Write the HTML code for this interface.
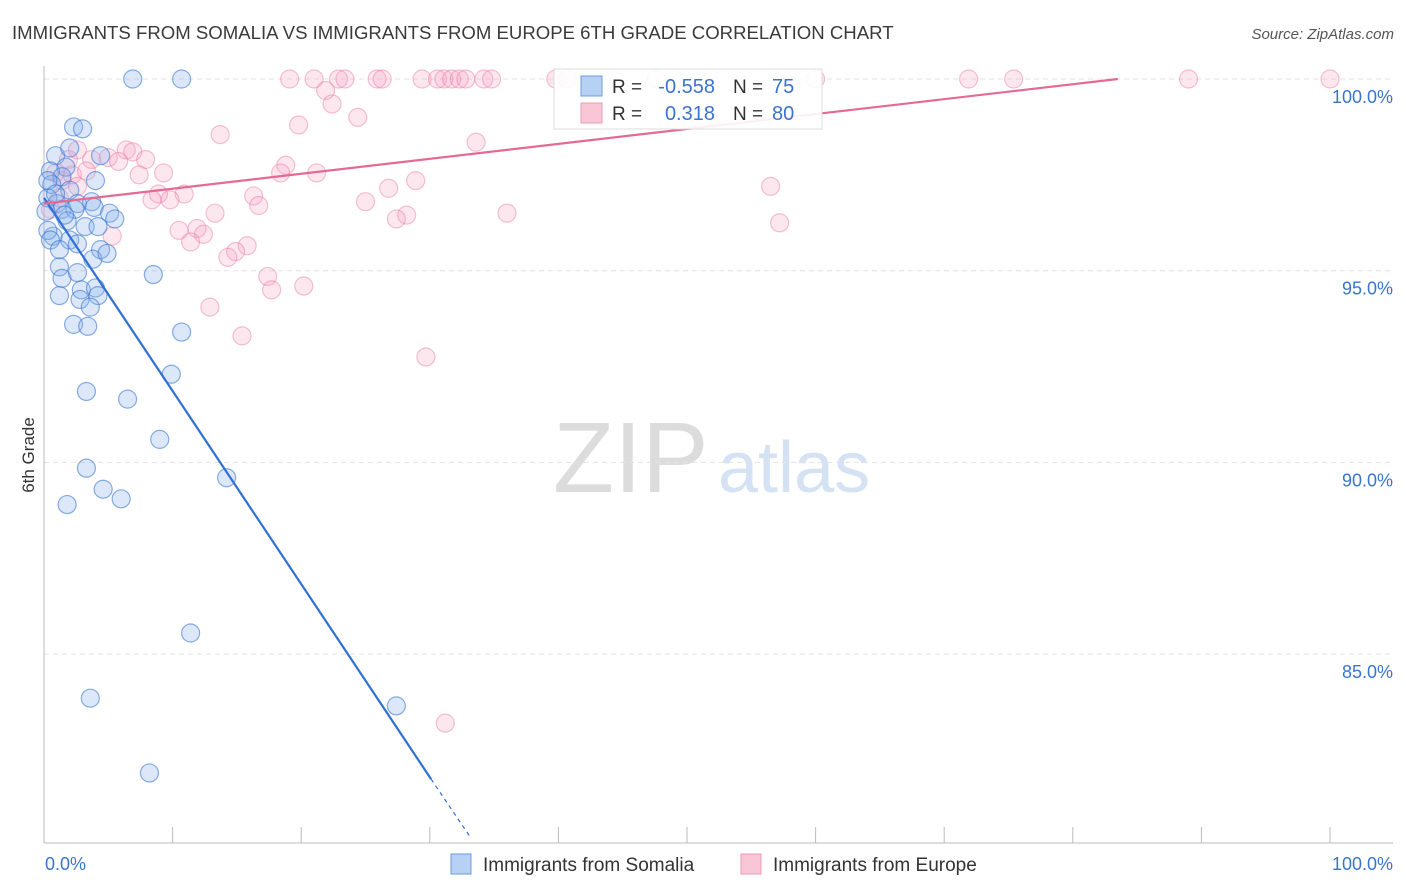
<!DOCTYPE html>
<html><head><meta charset="utf-8">
<style>
body{margin:0;background:#fff;font-family:"Liberation Sans",sans-serif;}
#wrap{position:relative;width:1406px;height:892px;overflow:hidden;}
svg text{font-family:"Liberation Sans",sans-serif;}
</style></head>
<body>
<div id="wrap">
<svg id="chart" width="1406" height="892">
<text x="12" y="39" font-size="18.6" fill="#3a3a3a">IMMIGRANTS FROM SOMALIA VS IMMIGRANTS FROM EUROPE 6TH GRADE CORRELATION CHART</text>
<text x="1394" y="39" font-size="15" fill="#555" font-style="italic" text-anchor="end">Source: ZipAtlas.com</text>
<text transform="translate(34,455) rotate(-90)" font-size="17" fill="#333" text-anchor="middle">6th Grade</text>
<g>
<text x="553" y="492" font-size="100" fill="#dcdcdc" font-family="Liberation Serif, serif">ZIP</text>
<text x="718" y="492" font-size="72" fill="#d4e2f4">atlas</text>
</g>
<g id="grid"></g>
<g id="marks"></g>
<g id="legend"></g>
</svg>
</div>
<script>
const yTicks=[100,95,90,85];
const yTickLabels=["100.0%","95.0%","90.0%","85.0%"];
const xTickLabels=["0.0%","100.0%"];
const somaliaX=[6.9,10.7,2.3,3.0,0.9,2.0,4.4,1.7,0.5,1.4,4.0,0.6,2.0,0.3,1.0,2.6,3.7,1.4,2.4,3.9,5.1,5.5,1.8,3.2,4.2,0.7,2.0,2.6,4.4,3.8,4.9,1.2,1.4,2.6,8.5,2.9,4.0,4.2,1.2,2.8,3.6,2.3,3.4,10.7,9.9,3.3,6.5,9.0,3.3,14.2,4.6,6.0,1.8,11.4,3.6,27.4,8.2,0.3,0.15,0.3,0.5,0.9,1.6,1.2];
const somaliaY=[100,100,98.75,98.7,98.0,98.2,98.0,97.7,97.6,97.45,97.35,97.25,97.1,96.9,96.75,96.75,96.8,96.6,96.6,96.65,96.5,96.35,96.3,96.15,96.15,95.9,95.8,95.7,95.55,95.3,95.45,95.1,94.8,94.95,94.9,94.5,94.55,94.35,94.35,94.25,94.05,93.6,93.55,93.4,92.3,91.85,91.65,90.6,89.85,89.6,89.3,89.05,88.9,85.55,83.85,83.65,81.9,97.35,96.55,96.05,95.8,97.0,96.45,95.55];
const europeX=[19.1,21.0,22.9,23.4,25.9,26.3,29.4,30.6,31.1,31.7,32.3,32.8,34.2,34.8,39.8,40.7,47.6,60.0,71.9,75.4,89,100,21.9,22.4,24.4,19.8,13.7,33.6,6.4,6.9,5.0,7.9,5.8,3.7,18.8,18.4,21.2,9.3,7.4,28.9,26.8,56.5,8.9,10.9,16.3,8.4,9.8,16.7,25.0,13.3,28.2,27.4,36.0,57.2,10.5,11.9,12.4,11.4,15.8,14.9,14.3,17.4,17.7,20.2,12.9,15.4,29.7,31.2,0.9,1.9,2.6,1.4,2.2,3.3,0.5,5.3,1.2,2.6];
const europeY=[100,100,100,100,100,100,100,100,100,100,100,100,100,100,100,100,100,100,100,100,100,100,99.7,99.35,99.0,98.8,98.55,98.35,98.15,98.1,97.95,97.9,97.85,97.9,97.75,97.55,97.55,97.55,97.5,97.35,97.15,97.2,97.0,97.0,96.95,96.85,96.85,96.7,96.8,96.5,96.45,96.35,96.5,96.25,96.05,96.1,95.95,95.75,95.65,95.5,95.35,94.85,94.5,94.6,94.05,93.3,92.75,83.2,97.55,97.9,98.15,97.35,97.5,97.6,96.6,95.9,96.9,97.2];
const somaliaTrendX=[0,30.1,33.2];
const somaliaTrendY=[96.9,81.74,80.2];
const europeTrendX=[0,83.5];
const europeTrendY=[96.75,100];

const NS="http://www.w3.org/2000/svg";
const X0=44,X1=1330,Y100=79,PXPER=38.34,YB=843;
function xs(v){return X0+(X1-X0)*v/100;}
function ys(v){return Y100+(100-v)*PXPER;}
function mk(tag,attrs,parent){const e=document.createElementNS(NS,tag);for(const k in attrs)e.setAttribute(k,attrs[k]);parent.appendChild(e);return e;}
const grid=document.getElementById('grid'),marks=document.getElementById('marks'),leg=document.getElementById('legend');

yTicks.forEach((t,i)=>{
  const l=mk('line',{x1:X0,x2:1393,y1:ys(t),y2:ys(t),stroke:'#e2e2e2','stroke-dasharray':'5,4'},grid);
  
  
  const tx=mk('text',{x:1393,y:ys(t)+24,'font-size':18,fill:'#3b73d0','text-anchor':'end'},grid);
  tx.textContent=yTickLabels[i];
  
  
});
const ax=mk('line',{x1:X0,x2:X0,y1:66,y2:YB,stroke:'#bbb'},grid);


const bx=mk('line',{x1:X0,x2:1393,y1:YB,y2:YB,stroke:'#bbb'},grid);


for(let i=0;i<=10;i++){
  const t=mk('line',{x1:xs(i*10),x2:xs(i*10),y1:YB,y2:YB-16,stroke:'#bbb'},grid);
  
  
}
[[0,'start',45],[100,'end',1393]].forEach((d,i)=>{
  const tx=mk('text',{x:d[2],y:870,'font-size':18,fill:'#3b73d0','text-anchor':d[1]},grid);
  tx.textContent=xTickLabels[i];
  
  
});

europeX.forEach((v,i)=>{
  const c=mk('circle',{cx:xs(v),cy:ys(europeY[i]),r:9,fill:'rgba(244,160,190,0.25)',stroke:'rgba(232,120,160,0.45)','stroke-width':1.2},marks);
  
  
});
somaliaX.forEach((v,i)=>{
  const c=mk('circle',{cx:xs(v),cy:ys(somaliaY[i]),r:9,fill:'rgba(140,180,235,0.3)',stroke:'rgba(60,120,210,0.6)','stroke-width':1.2},marks);
  
  
});
const bl=mk('line',{x1:xs(somaliaTrendX[0]),y1:ys(somaliaTrendY[0]),x2:xs(somaliaTrendX[1]),y2:ys(somaliaTrendY[1]),stroke:'#2f6fd6','stroke-width':2.2},marks);


const bd=mk('line',{x1:xs(somaliaTrendX[1]),y1:ys(somaliaTrendY[1]),x2:xs(somaliaTrendX[2]),y2:ys(somaliaTrendY[2]),stroke:'#2f6fd6','stroke-width':1.2,'stroke-dasharray':'4,4'},marks);


const pl=mk('line',{x1:xs(europeTrendX[0]),y1:ys(europeTrendY[0]),x2:xs(europeTrendX[1]),y2:ys(europeTrendY[1]),stroke:'#e46a94','stroke-width':2.2},marks);



const lb=mk('rect',{x:554,y:69,width:268,height:60,fill:'rgba(255,255,255,0.9)',stroke:'#ddd'},leg);


[[86,'#b7d1f5','#6b9be0','-0.558','75'],[113,'#f9c6d6','#eb9ab6','0.318','80']].forEach((r,i)=>{
  const s=mk('rect',{x:581,y:r[0]-10,width:21,height:20,fill:r[1],stroke:r[2]},leg);
  
  
  const t1=mk('text',{x:612,y:r[0]+7,'font-size':19,fill:'#333'},leg);t1.textContent='R =';
  
  
  const t2=mk('text',{x:715,y:r[0]+7,'font-size':20,fill:'#3b73d0','text-anchor':'end'},leg);t2.textContent=r[3];
  
  
  const t3=mk('text',{x:733,y:r[0]+7,'font-size':19,fill:'#333'},leg);t3.textContent='N =';
  
  
  const t4=mk('text',{x:772,y:r[0]+7,'font-size':20,fill:'#3b73d0'},leg);t4.textContent=r[4];
  
  
});
[[451,'#b7d1f5','#6b9be0','Immigrants from Somalia'],[741,'#f9c6d6','#eb9ab6','Immigrants from Europe']].forEach(r=>{
  const s=mk('rect',{x:r[0],y:854,width:20,height:20,fill:r[1],stroke:r[2]},leg);
  
  
  const t=mk('text',{x:r[0]+32,y:871,'font-size':19,fill:'#333'},leg);t.textContent=r[3];
  
  
});
</script>
</body></html>
